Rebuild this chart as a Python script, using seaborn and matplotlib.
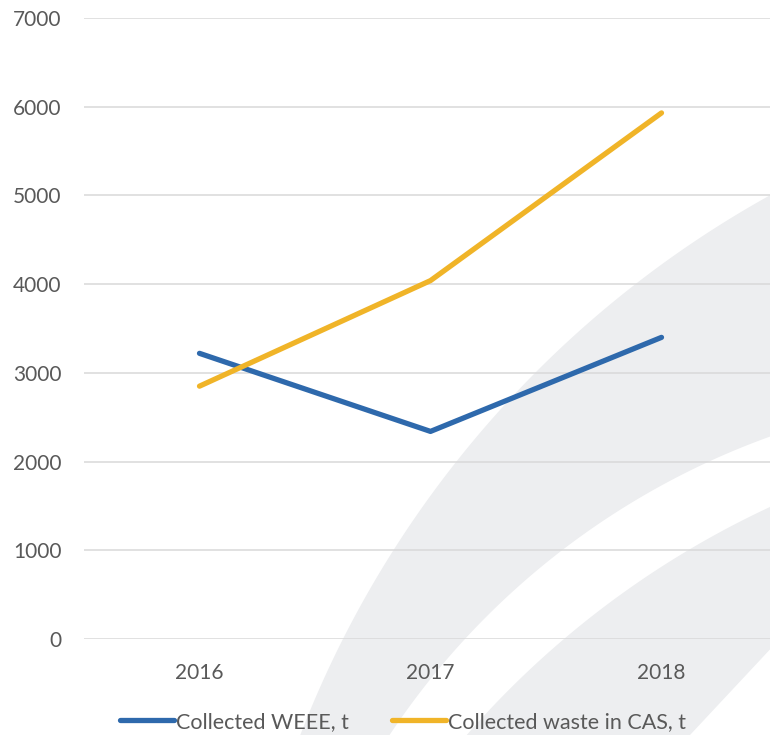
import numpy as np
import pandas as pd
import matplotlib
matplotlib.use("Agg")
import matplotlib.pyplot as plt
from matplotlib.patches import Polygon
import seaborn as sns

# ---- data ----
years = ["2016", "2017", "2018"]
weee = [3220, 2340, 3400]
cas_waste = [2850, 4040, 5930]
series_names = ["Collected WEEE, t", "Collected waste in CAS, t"]
y_ticks = [0, 1000, 2000, 3000, 4000, 5000, 6000, 7000]

df = pd.DataFrame({
    "year": years * 2,
    "value": weee + cas_waste,
    "series": [series_names[0]] * 3 + [series_names[1]] * 3,
})

sns.set_theme(style="white")
plt.rcParams["font.family"] = ["Lato", "DejaVu Sans"]

W, H = 770, 735
fig = plt.figure(figsize=(W / 100, H / 100), dpi=100)
fig.patch.set_facecolor("white")

# ---- decorative background swooshes (pixel geometry, y measured downward) ----
band_color = "#EDEEF0"

def to_fig(pts):
    pts = np.asarray(pts, dtype=float)
    return np.column_stack([pts[:, 0] / W, 1 - pts[:, 1] / H])

def upper_arc(h, k, r, x0, x1, n=200):
    xs = np.linspace(x0, x1, n)
    ys = k - np.sqrt(np.clip(r ** 2 - (xs - h) ** 2, 0, None))
    return np.column_stack([xs, ys])

def bottom_x(h, k, r, yb):
    return h - np.sqrt(r ** 2 - (yb - k) ** 2)

yb = 750
# band 1
c_out = (1279.0, 1112.5, 1049.0)
c_in = (1031.0, 1161.0, 770.0)
xo = bottom_x(*c_out, yb)
xi = bottom_x(*c_in, yb)
outer = upper_arc(*c_out, xo, 790)
inner = upper_arc(*c_in, xi, 790)[::-1]
band1 = np.vstack([outer, inner])
fig.patches.append(Polygon(to_fig(band1), closed=True, facecolor=band_color,
                           edgecolor="none", transform=fig.transFigure, zorder=-5))
# band 2
c2 = (1156.0, 1336.0, 914.5)
x2 = bottom_x(*c2, yb)
arc2 = upper_arc(*c2, x2, 790)
band2 = np.vstack([arc2, [[790, 628], [676, yb]]])
fig.patches.append(Polygon(to_fig(band2), closed=True, facecolor=band_color,
                           edgecolor="none", transform=fig.transFigure, zorder=-5))

# ---- axes ----
ax = fig.add_axes([84 / W, 96 / H, 693 / W, 621 / H])
ax.set_facecolor("none")
ax.set_zorder(5)

palette = {series_names[0]: "#2E69AC", series_names[1]: "#F0B428"}
sns.lineplot(data=df, x="year", y="value", hue="series", palette=palette,
             linewidth=3.8, ax=ax, sort=False, legend=True,
             solid_capstyle="round", solid_joinstyle="round")

ax.set_xlim(-0.5, 2.5)
ax.set_ylim(0, 7000)
ax.set_yticks(y_ticks)
ax.set_yticklabels([str(v) for v in y_ticks])
ax.set_xlabel("")
ax.set_ylabel("")
for s in ax.spines.values():
    s.set_visible(False)
ax.grid(axis="y", color="#D9D9D9", linewidth=1.1)
ax.grid(axis="x", visible=False)
ax.set_axisbelow(True)
ax.tick_params(axis="y", length=0, pad=16, labelsize=15, labelcolor="#595959")
ax.tick_params(axis="x", length=0, pad=17, labelsize=15, labelcolor="#595959")

handles, labels = ax.get_legend_handles_labels()
ax.get_legend().remove()
for h in handles:
    h.set_linewidth(3.8)
    h.set_solid_capstyle("round")
leg = fig.legend(handles, labels, loc="center", bbox_to_anchor=(403 / W, 1 - 722 / H),
                 ncol=2, frameon=False, fontsize=15.5, handlelength=2.5,
                 handletextpad=0.1, columnspacing=2.0, labelcolor="#595959")
leg.set_zorder(10)

fig.savefig("out.png", dpi=100, facecolor="white")
